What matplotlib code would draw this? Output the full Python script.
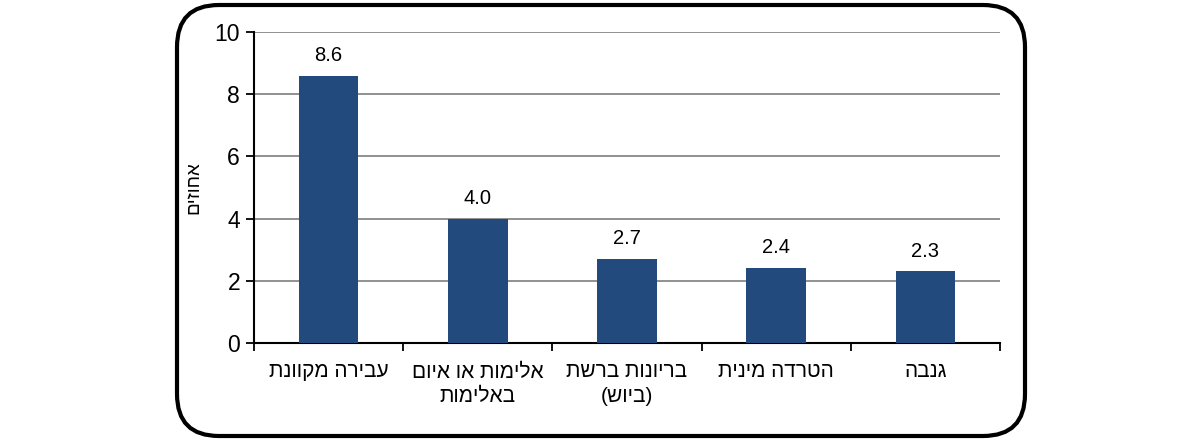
import matplotlib
matplotlib.use("Agg")
import matplotlib.pyplot as plt
from matplotlib.patches import FancyBboxPatch

categories = ["עבירה מקוונת", "אלימות או איום\nבאלימות", "בריונות ברשת\n(ביוש)", "הטרדה מינית", "גנבה"]
values = [8.6, 4.0, 2.7, 2.4, 2.3]
value_labels = ["8.6", "4.0", "2.7", "2.4", "2.3"]
y_ticks = [0, 2, 4, 6, 8, 10]
y_label = "אחוזים"

def vis(s):
    swap = {"(": ")", ")": "("}
    out = []
    for line in s.split("\n"):
        out.append("".join(swap.get(c, c) for c in reversed(line)))
    return "\n".join(out)

plt.rcParams['font.family'] = ['Liberation Sans', 'DejaVu Sans']

fig = plt.figure(figsize=(12, 4.41), dpi=100)
ax = fig.add_axes([254/1200, 1-343/441, (1000-254)/1200, (343-32)/441])

x = list(range(len(categories)))
ax.bar(x, values, width=0.4, color="#234A7C", zorder=3)
for xi, v, lab in zip(x, values, value_labels):
    ax.text(xi, v + 0.35, lab, ha="center", va="bottom", fontsize=14.5, color="black")

ax.set_xlim(-0.5, len(categories) - 0.5)
ax.set_ylim(0, 10)
ax.set_yticks(y_ticks)
ax.set_yticklabels([str(t) for t in y_ticks], fontsize=16.5)
ax.yaxis.grid(True, color="#888888", linewidth=1.3, zorder=0)
ax.set_axisbelow(True)

# category labels between boundary ticks
ax.set_xticks([i - 0.5 for i in range(len(categories) + 1)])
ax.set_xticklabels([])
ax.set_xticks(x, minor=True)
ax.set_xticklabels([vis(c) for c in categories], minor=True, fontsize=15, linespacing=1.35)
ax.tick_params(axis="x", which="minor", length=0, pad=14)
ax.tick_params(axis="x", which="major", length=6, width=1.3, direction="out")
ax.tick_params(axis="y", length=6, width=1.3, direction="out", pad=4)

for s in ["top", "right"]:
    ax.spines[s].set_visible(False)
for s in ["left", "bottom"]:
    ax.spines[s].set_linewidth(1.5)
    ax.spines[s].set_color("black")

ax.set_ylabel(vis(y_label), fontsize=13.5, labelpad=9)

frame = FancyBboxPatch((177/1200, 1-436/441), (1025-177)/1200, (436-5)/441,
                       boxstyle="round,pad=0,rounding_size=0.035",
                       transform=fig.transFigure, fill=False, edgecolor="black",
                       linewidth=3, mutation_aspect=1200/441)
fig.patches.append(frame)

fig.savefig("out.png", dpi=100)
